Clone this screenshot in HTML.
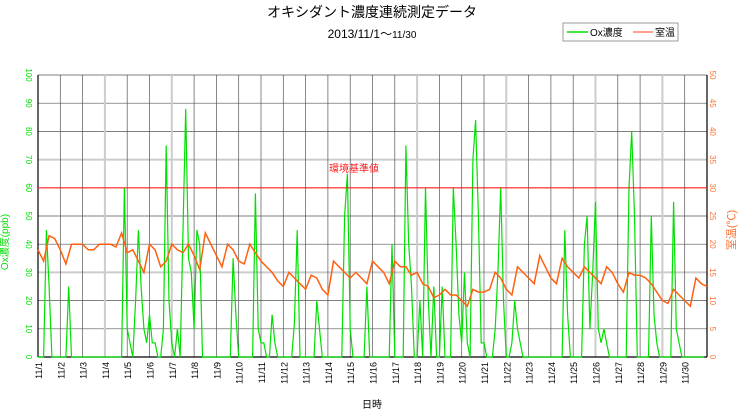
<!DOCTYPE html>
<html><head><meta charset="utf-8">
<style>
body{margin:0;background:#fff;width:744px;height:415px;overflow:hidden}
svg{display:block;font-family:"Liberation Sans","Noto Sans CJK JP",sans-serif}
</style></head><body>
<svg id="chart" width="744" height="415" viewBox="0 0 744 415"></svg>
<script>
const days = ["11/1","11/2","11/3","11/4","11/5","11/6","11/7","11/8","11/9","11/10","11/11","11/12","11/13","11/14","11/15","11/16","11/17","11/18","11/19","11/20","11/21","11/22","11/23","11/24","11/25","11/26","11/27","11/28","11/29","11/30"];
const leftTicks = [0,10,20,30,40,50,60,70,80,90,100];
const rightTicks = [0,5,10,15,20,25,30,35,40,45,50];
const standardValue = 60;
// room temperature, 4 samples per day (6h)
const tempValues = [19,17,21.5,21, 19,16.5,20,20, 20,19,19,20, 20,20,19.5,22, 18.5,19,17,15, 20,19,16,17, 20,19,18.5,20, 18,15.5,22,20, 18,16,20,19, 17,16.5,20,18.5, 17,16,15,13.5, 12.5,15,14,13, 12,14.5,14,12, 11,17,16,15, 14,15,14,13, 17,16,15,13, 17,16,16,14.5, 15,13,12.5,10.5, 11,12,11,11, 10,9,12,11.5, 11.5,12,15,14, 12,11,16,15, 14,13,18,16, 14,13,17.5,16, 15,14,16,15, 14,13,16,15, 13,11.5,15,14.5, 14.5,14,13,11.5, 10,9.5,12,11, 10,9,14,13, 12.5];
// Ox concentration, 8 samples per day (3h)
const oxValues = [0,0,0,45,25,0,0,0, 0,0,0,25,0,0,0,0, 0,0,0,0,0,0,0,0, 0,0,0,0,0,0,0,60, 10,5,0,20,45,25,10,5, 15,5,5,0,0,10,75,20, 5,0,10,0,45,88,35,30, 10,45,40,0,0,0,0,0, 0,0,0,0,0,0,35,15, 0,0,0,0,0,0,58,10, 5,5,0,0,15,5,0,0, 0,0,0,0,12,45,0,0, 0,0,0,0,20,10,0,0, 0,0,0,0,0,0,50,65, 10,0,0,0,0,0,25,0, 0,0,0,0,0,0,0,40, 0,0,0,0,75,40,25,0, 0,20,0,60,20,0,25,0, 0,25,0,0,0,60,40,15, 5,30,5,0,70,84,50,5, 5,0,0,0,10,30,60,20, 0,0,5,20,10,5,0,0, 0,0,0,0,0,0,0,0, 0,0,0,0,0,45,15,0, 0,0,0,0,40,50,10,30, 55,10,5,10,5,0,0,0, 0,0,0,0,60,80,50,0, 0,0,0,0,50,15,5,0, 0,0,0,0,55,10,5,0, 0,0,0,0,0,0,0,0];
const lightDays = [3,6,17,21,25,28];

const NS="http://www.w3.org/2000/svg";
const svg=document.getElementById('chart');
const X0=38,X1=707,Y0=357,Y1=75;
const dayW=(X1-X0)/30;
const xDay=d=>X0+d*dayW;
const yOx=v=>Y0-(v/100)*(Y0-Y1);
const yT=v=>Y0-(v/50)*(Y0-Y1);
function mk(tag,attrs,parent){const e=document.createElementNS(NS,tag);for(const k in attrs)e.setAttribute(k,attrs[k]);(parent||svg).appendChild(e);return e;}

// title
let t=mk('text',{x:372,y:17,'text-anchor':'middle','font-size':14,fill:'#000'});t.textContent='オキシダント濃度連続測定データ';


t=mk('text',{x:372,y:38,'text-anchor':'middle','font-size':12,fill:'#000'});
t.innerHTML='2013/11/1～<tspan font-size="10">11/30</tspan>';



// legend
const lg=mk('g',{});


mk('rect',{x:563,y:23,width:115,height:18,fill:'#fff',stroke:'#999'},lg);
mk('line',{x1:567,y1:32,x2:588,y2:32,stroke:'#00e000','stroke-width':1.5},lg);
t=mk('text',{x:590,y:36,'font-size':10,fill:'#000'},lg);t.textContent='Ox濃度';
mk('line',{x1:633,y1:32,x2:653,y2:32,stroke:'#ff8060','stroke-width':1.5},lg);
t=mk('text',{x:655,y:36,'font-size':10,fill:'#000'},lg);t.textContent='室温';

// grid
const grid=mk('g',{});


leftTicks.forEach(v=>{
  const light=(v===30||v===70);
  mk('line',{x1:X0,x2:X1,y1:yOx(v),y2:yOx(v),stroke:light?'#ccc':'#555','stroke-width':light?2:0.7},grid);
});
for(let d=1;d<30;d++){
  const light=lightDays.includes(d);
  mk('line',{x1:xDay(d),x2:xDay(d),y1:Y1,y2:Y0,stroke:light?'#ccc':'#555','stroke-width':light?2:0.7},grid);
}
mk('line',{x1:X0,x2:X0,y1:Y1,y2:Y0,stroke:'#000','stroke-width':1.2},grid);
mk('line',{x1:X1,x2:X1,y1:Y1,y2:Y0,stroke:'#000','stroke-width':1.2},grid);
mk('line',{x1:X0,x2:X1,y1:Y0,y2:Y0,stroke:'#000','stroke-width':1.2},grid);

// left ticks
leftTicks.forEach(v=>{
  const tx=mk('text',{transform:`translate(26,${yOx(v)}) rotate(90)`,'text-anchor':'middle','font-size':8,fill:'#00dd00'});
  tx.textContent=v;
  
  
});
rightTicks.forEach(v=>{
  const tx=mk('text',{transform:`translate(710,${yT(v)}) rotate(90)`,'text-anchor':'middle','font-size':8,fill:'#ff7030'});
  tx.textContent=v;
  
  
});
days.forEach((d,i)=>{
  const tx=mk('text',{transform:`translate(${xDay(i)+4},362) rotate(-90)`,'text-anchor':'end','font-size':9,fill:'#000'});
  tx.textContent=d;
  
  
});
t=mk('text',{transform:'translate(8,242) rotate(-90)','text-anchor':'middle','font-size':10,fill:'#00dd00'});t.textContent='Ox濃度(ppb)';


t=mk('text',{transform:'translate(735,230) rotate(-90)','text-anchor':'middle','font-size':11,fill:'#ff7030'});t.textContent='室温(℃)';


t=mk('text',{x:372,y:408,'text-anchor':'middle','font-size':10,fill:'#000'});t.textContent='日時';



// ox series
let p='';
oxValues.forEach((v,i)=>{p+=(i?'L':'M')+xDay(i/8).toFixed(1)+','+yOx(v).toFixed(1);});
const ox=mk('path',{d:p,fill:'none',stroke:'#00e000','stroke-width':1.2});


// temp series
p='';
tempValues.forEach((v,i)=>{p+=(i?'L':'M')+xDay(i/4).toFixed(1)+','+yT(v).toFixed(1);});
const tp=mk('path',{d:p,fill:'none',stroke:'#ff6010','stroke-width':1.5});



// standard line
const sl=mk('line',{x1:X0,x2:X1,y1:yOx(standardValue),y2:yOx(standardValue),stroke:'#ff2020','stroke-width':1.2});


t=mk('text',{x:354,y:yOx(standardValue)-16,'text-anchor':'middle','font-size':10,fill:'#ff2020'});t.textContent='環境基準値';


</script>
</body></html>
